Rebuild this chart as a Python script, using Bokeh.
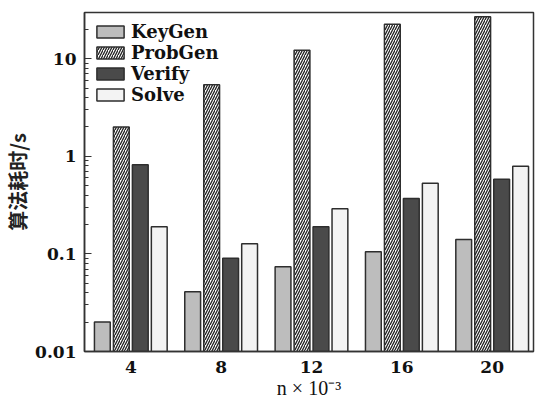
from bokeh.plotting import figure
from bokeh.models import (ColumnDataSource, FixedTicker, CustomJSTickFormatter, Legend,
                          LegendItem, Range1d)
from bokeh.transform import dodge
from bokeh.embed import file_html
from bokeh.resources import INLINE

# ---- data ----
n_values = [4, 8, 12, 16, 20]
keygen = [0.020, 0.041, 0.074, 0.105, 0.14]
probgen = [2.0, 5.4, 12.2, 22.5, 26.8]
verify = [0.82, 0.090, 0.19, 0.37, 0.58]
solve = [0.19, 0.127, 0.29, 0.53, 0.79]
series_names = ["KeyGen", "ProbGen", "Verify", "Solve"]
y_ticks = [0.01, 0.1, 1, 10]

src = ColumnDataSource(dict(n=n_values, KeyGen=keygen, ProbGen=probgen,
                            Verify=verify, Solve=solve))

p = figure(width=535, height=409, output_backend="svg", toolbar_location=None,
           y_axis_type="log", x_range=Range1d(1.95, 21.83), y_range=Range1d(0.01, 29.7),
           min_border_left=82, min_border_right=2, min_border_top=12, min_border_bottom=58)
p.grid.visible = False
p.background_fill_color = "white"
p.outline_line_color = "#333333"
p.outline_line_width = 1.5

edge = "#2e2e2e"
bw = 0.70
step = 0.84
styles = {
    "KeyGen": dict(fill_color="#bdbdbd"),
    "ProbGen": dict(fill_color="white", hatch_pattern="/", hatch_color="#222222",
                    hatch_scale=5, hatch_weight=1.3),
    "Verify": dict(fill_color="#4a4a4a"),
    "Solve": dict(fill_color="#f3f3f3"),
}
items = []
for i, name in enumerate(series_names):
    off = (i - 1.5) * step
    r = p.vbar(x=dodge("n", off), top=name, bottom=0.01, width=bw, source=src,
               line_color=edge, line_width=1.5, **styles[name])
    items.append(LegendItem(label=name, renderers=[r]))

serif = "DejaVu Serif"

legend = Legend(items=items, location="top_left", margin=9, padding=0,
                border_line_color=None, background_fill_alpha=0,
                glyph_width=34, glyph_height=15, label_height=18, spacing=0,
                label_standoff=4, label_text_line_height=0.9,
                label_text_font=serif, label_text_font_style="bold",
                label_text_font_size="18px", label_text_color="#111111")
p.add_layout(legend)

# x axis
p.xaxis.ticker = FixedTicker(ticks=n_values)
p.xaxis.major_tick_in = 0
p.xaxis.major_tick_out = 0
p.xaxis.minor_tick_in = 0
p.xaxis.minor_tick_out = 0
p.xaxis.major_label_text_font = serif
p.xaxis.major_label_text_font_style = "bold"
p.xaxis.major_label_text_font_size = "17px"
p.xaxis.major_label_text_color = "#111111"
p.xaxis.major_label_standoff = 9
p.xaxis.axis_line_color = "#333333"
p.xaxis.axis_line_width = 1.5
p.xaxis.axis_label = "n × 10⁻³"
p.xaxis.axis_label_text_font = "Liberation Serif"
p.xaxis.axis_label_text_font_style = "normal"
p.xaxis.axis_label_text_font_size = "20px"
p.xaxis.axis_label_text_color = "#111111"
p.xaxis.axis_label_standoff = 1

# y axis
minor = [k * t for t in y_ticks for k in range(2, 10)]
p.yaxis.ticker = FixedTicker(ticks=y_ticks, minor_ticks=minor)
p.yaxis.formatter = CustomJSTickFormatter(code="return tick.toString();")
p.yaxis.major_tick_in = 7
p.yaxis.major_tick_out = 0
p.yaxis.minor_tick_in = 4
p.yaxis.minor_tick_out = 0
p.yaxis.major_tick_line_color = "#333333"
p.yaxis.minor_tick_line_color = "#333333"
p.yaxis.major_tick_line_width = 1.2
p.yaxis.minor_tick_line_width = 1.2
p.yaxis.axis_line_color = "#333333"
p.yaxis.axis_line_width = 1.5
p.yaxis.major_label_text_font = serif
p.yaxis.major_label_text_font_style = "bold"
p.yaxis.major_label_text_font_size = "17px"
p.yaxis.major_label_text_color = "#111111"
p.yaxis.major_label_standoff = 8
p.yaxis.axis_label = "算法耗时/s"
p.yaxis.axis_label_text_font = "Noto Sans CJK SC"
p.yaxis.axis_label_text_font_style = "bold"
p.yaxis.axis_label_text_font_size = "20px"
p.yaxis.axis_label_text_color = "#222222"
p.yaxis.axis_label_standoff = 0

open("out.html", "w").write(file_html(p, INLINE))
